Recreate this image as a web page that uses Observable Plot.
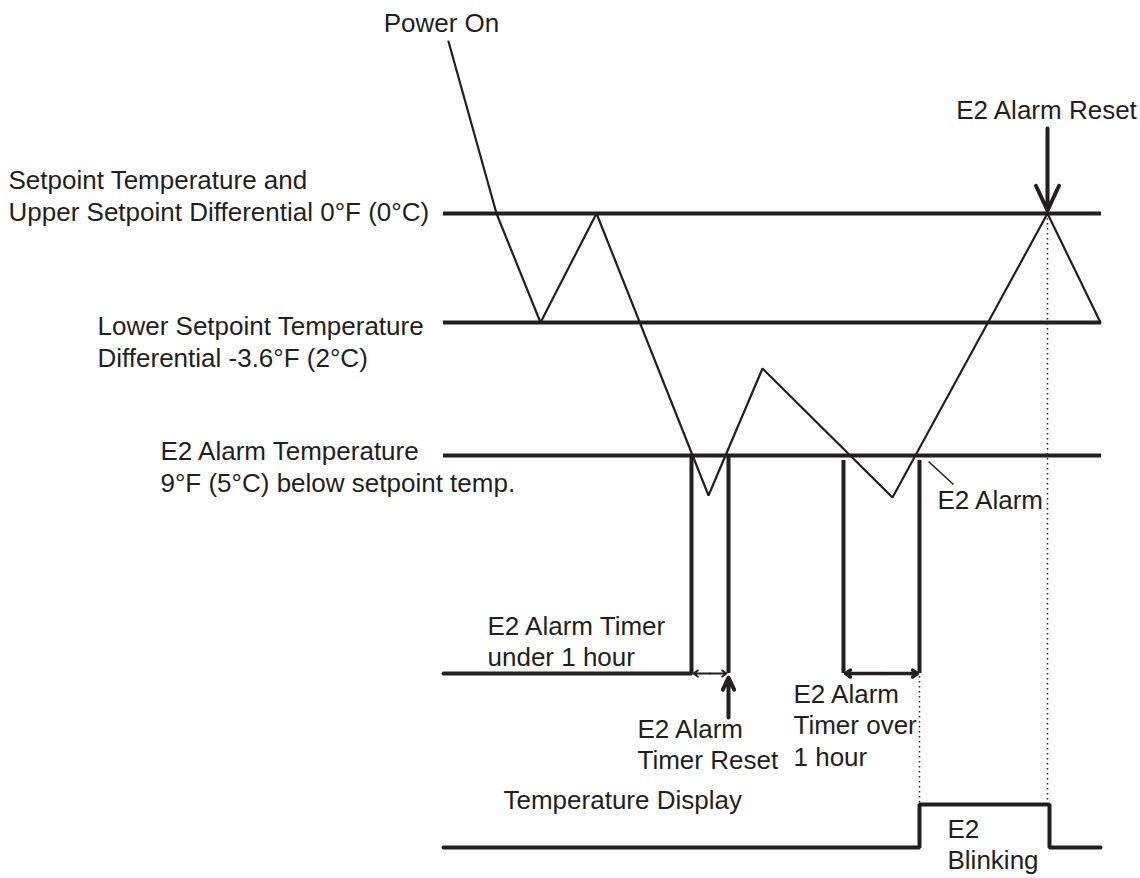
<!DOCTYPE html>
<html>
<head>
<meta charset="utf-8">
<script src="https://cdn.jsdelivr.net/npm/d3@7"></script>
<script src="https://cdn.jsdelivr.net/npm/@observablehq/plot@0.6"></script>
<style>
  html, body { margin: 0; padding: 0; background: #ffffff; }
  #chart { width: 1140px; height: 878px; }
</style>
</head>
<body>
<div id="chart"></div>
<script>
// ---- Diagram data (abstract time t / level units) ----
const thresholdNames = ["setpoint", "lower", "alarm"];
const thresholdLevels = [213, 322, 455];
const thresholdStart = 443;
const thresholdEnd = 1101;

// temperature trace
const traceT = [448, 496, 540, 596, 708, 762, 892, 1047, 1100];
const traceL = [41, 213, 322, 213, 495, 368, 497, 213, 322];

// E2 alarm timer signal
const timerT = [443, 691, 691];
const timerL = [673, 673, 455];
const timerEdgeT = [728, 843, 919];
const timerEdgeTop = [455, 460, 460];
const timerLow = 673;

// temperature display signal
const displayT = [443, 919, 919, 1049, 1049, 1100];
const displayL = [847, 847, 804, 804, 847, 847];

// dotted guide lines
const guideT = [1047, 919];
const guideFrom = [213, 676];
const guideTo = [804, 804];

// timer span arrows (double headed)
const spanFrom = [693, 845];
const spanTo = [726, 917];
const spanL = [673, 673];

// single arrows
const arrowT = [728, 1047];
const arrowFrom = [717, 128];
const arrowTo = [677, 210];

// E2 Alarm pointer
const pointerT = [928, 953];
const pointerL = [461, 484];

// labels
const labelText = [
  "Power On",
  "Setpoint Temperature and",
  "Upper Setpoint Differential 0°F (0°C)",
  "Lower Setpoint Temperature",
  "Differential -3.6°F (2°C)",
  "E2 Alarm Temperature",
  "9°F (5°C) below setpoint temp.",
  "E2 Alarm Timer",
  "under 1 hour",
  "E2 Alarm",
  "Timer Reset",
  "E2 Alarm",
  "Timer over",
  "1 hour",
  "E2 Alarm",
  "E2 Alarm Reset",
  "Temperature Display",
  "E2",
  "Blinking"
];
const labelT = [441, 8, 8, 97, 97, 160, 160, 487, 487, 637, 637, 793, 793, 793, 937, 1046, 503, 947, 947];
const labelL = [23, 180, 212, 326, 358, 451, 483, 626, 657, 729, 760, 694, 725, 757, 500, 110, 800, 829, 860];
const labelAnchor = ["middle", "start", "start", "start", "start", "start", "start", "start", "start",
  "start", "start", "start", "start", "start", "start", "middle", "start", "start", "start"];

// ---- build tables ----
const ink = "#231f20";
const thresholds = thresholdLevels.map((l, i) => ({name: thresholdNames[i], l, t1: thresholdStart, t2: thresholdEnd}));
const trace = traceT.map((t, i) => ({t, l: traceL[i]}));
const timer = timerT.map((t, i) => ({t, l: timerL[i]}));
const timerEdges = timerEdgeT.map((t, i) => ({t, l1: timerEdgeTop[i], l2: timerLow}));
const display = displayT.map((t, i) => ({t, l: displayL[i]}));
const guides = guideT.map((t, i) => ({t, l1: guideFrom[i], l2: guideTo[i]}));
const spans = spanFrom.map((a, i) => ({a, b: spanTo[i], m: (a + spanTo[i]) / 2, l: spanL[i], w: i === 0 ? 1.8 : 3.5}));
const arrows = arrowT.map((t, i) => ({t, l1: arrowFrom[i], l2: arrowTo[i]}));
const labels = labelText.map((text, i) => ({text, t: labelT[i], l: labelL[i], anchor: labelAnchor[i]}));

const chart = Plot.plot({
  width: 1140,
  height: 878,
  margin: 0,
  x: {domain: [0, 1140], range: [0, 1140], axis: null},
  y: {domain: [0, 878], range: [0, 878], axis: null},
  style: {background: "#ffffff", fontFamily: "'Liberation Sans', Arial, Helvetica, sans-serif", color: ink},
  marks: [
    Plot.ruleY(thresholds, {y: "l", x1: "t1", x2: "t2", stroke: ink, strokeWidth: 4}),
    Plot.ruleX(guides, {x: "t", y1: "l1", y2: "l2", stroke: ink, strokeWidth: 1.5, strokeDasharray: "1.5,3.5"}),
    Plot.line(trace, {x: "t", y: "l", stroke: ink, strokeWidth: 2.2, strokeLinejoin: "miter"}),
    Plot.line(timer, {x: "t", y: "l", stroke: ink, strokeWidth: 4, strokeLinejoin: "miter"}),
    Plot.ruleX(timerEdges, {x: "t", y1: "l1", y2: "l2", stroke: ink, strokeWidth: 4}),
    Plot.line(display, {x: "t", y: "l", stroke: ink, strokeWidth: 4, strokeLinejoin: "miter"}),
    Plot.arrow(spans, {x1: "m", x2: "a", y1: "l", y2: "l", stroke: ink, strokeWidth: "w", headLength: 9, headAngle: 70}),
    Plot.arrow(spans, {x1: "m", x2: "b", y1: "l", y2: "l", stroke: ink, strokeWidth: "w", headLength: 9, headAngle: 70}),
    Plot.arrow(arrows, {x1: "t", x2: "t", y1: "l1", y2: "l2", stroke: ink, strokeWidth: 4, headLength: 11, headAngle: 50}),
    Plot.link([{t1: pointerT[0], l1: pointerL[0], t2: pointerT[1], l2: pointerL[1]}], {x1: "t1", y1: "l1", x2: "t2", y2: "l2", stroke: ink, strokeWidth: 1.6}),
    Plot.text(labels.filter(d => d.anchor === "start"), {x: "t", y: "l", text: "text", textAnchor: "start", lineAnchor: "middle", fontSize: 26, fill: ink}),
    Plot.text(labels.filter(d => d.anchor === "middle"), {x: "t", y: "l", text: "text", textAnchor: "middle", lineAnchor: "middle", fontSize: 26, fill: ink})
  ]
});
document.getElementById("chart").appendChild(chart);
</script>
</body>
</html>
